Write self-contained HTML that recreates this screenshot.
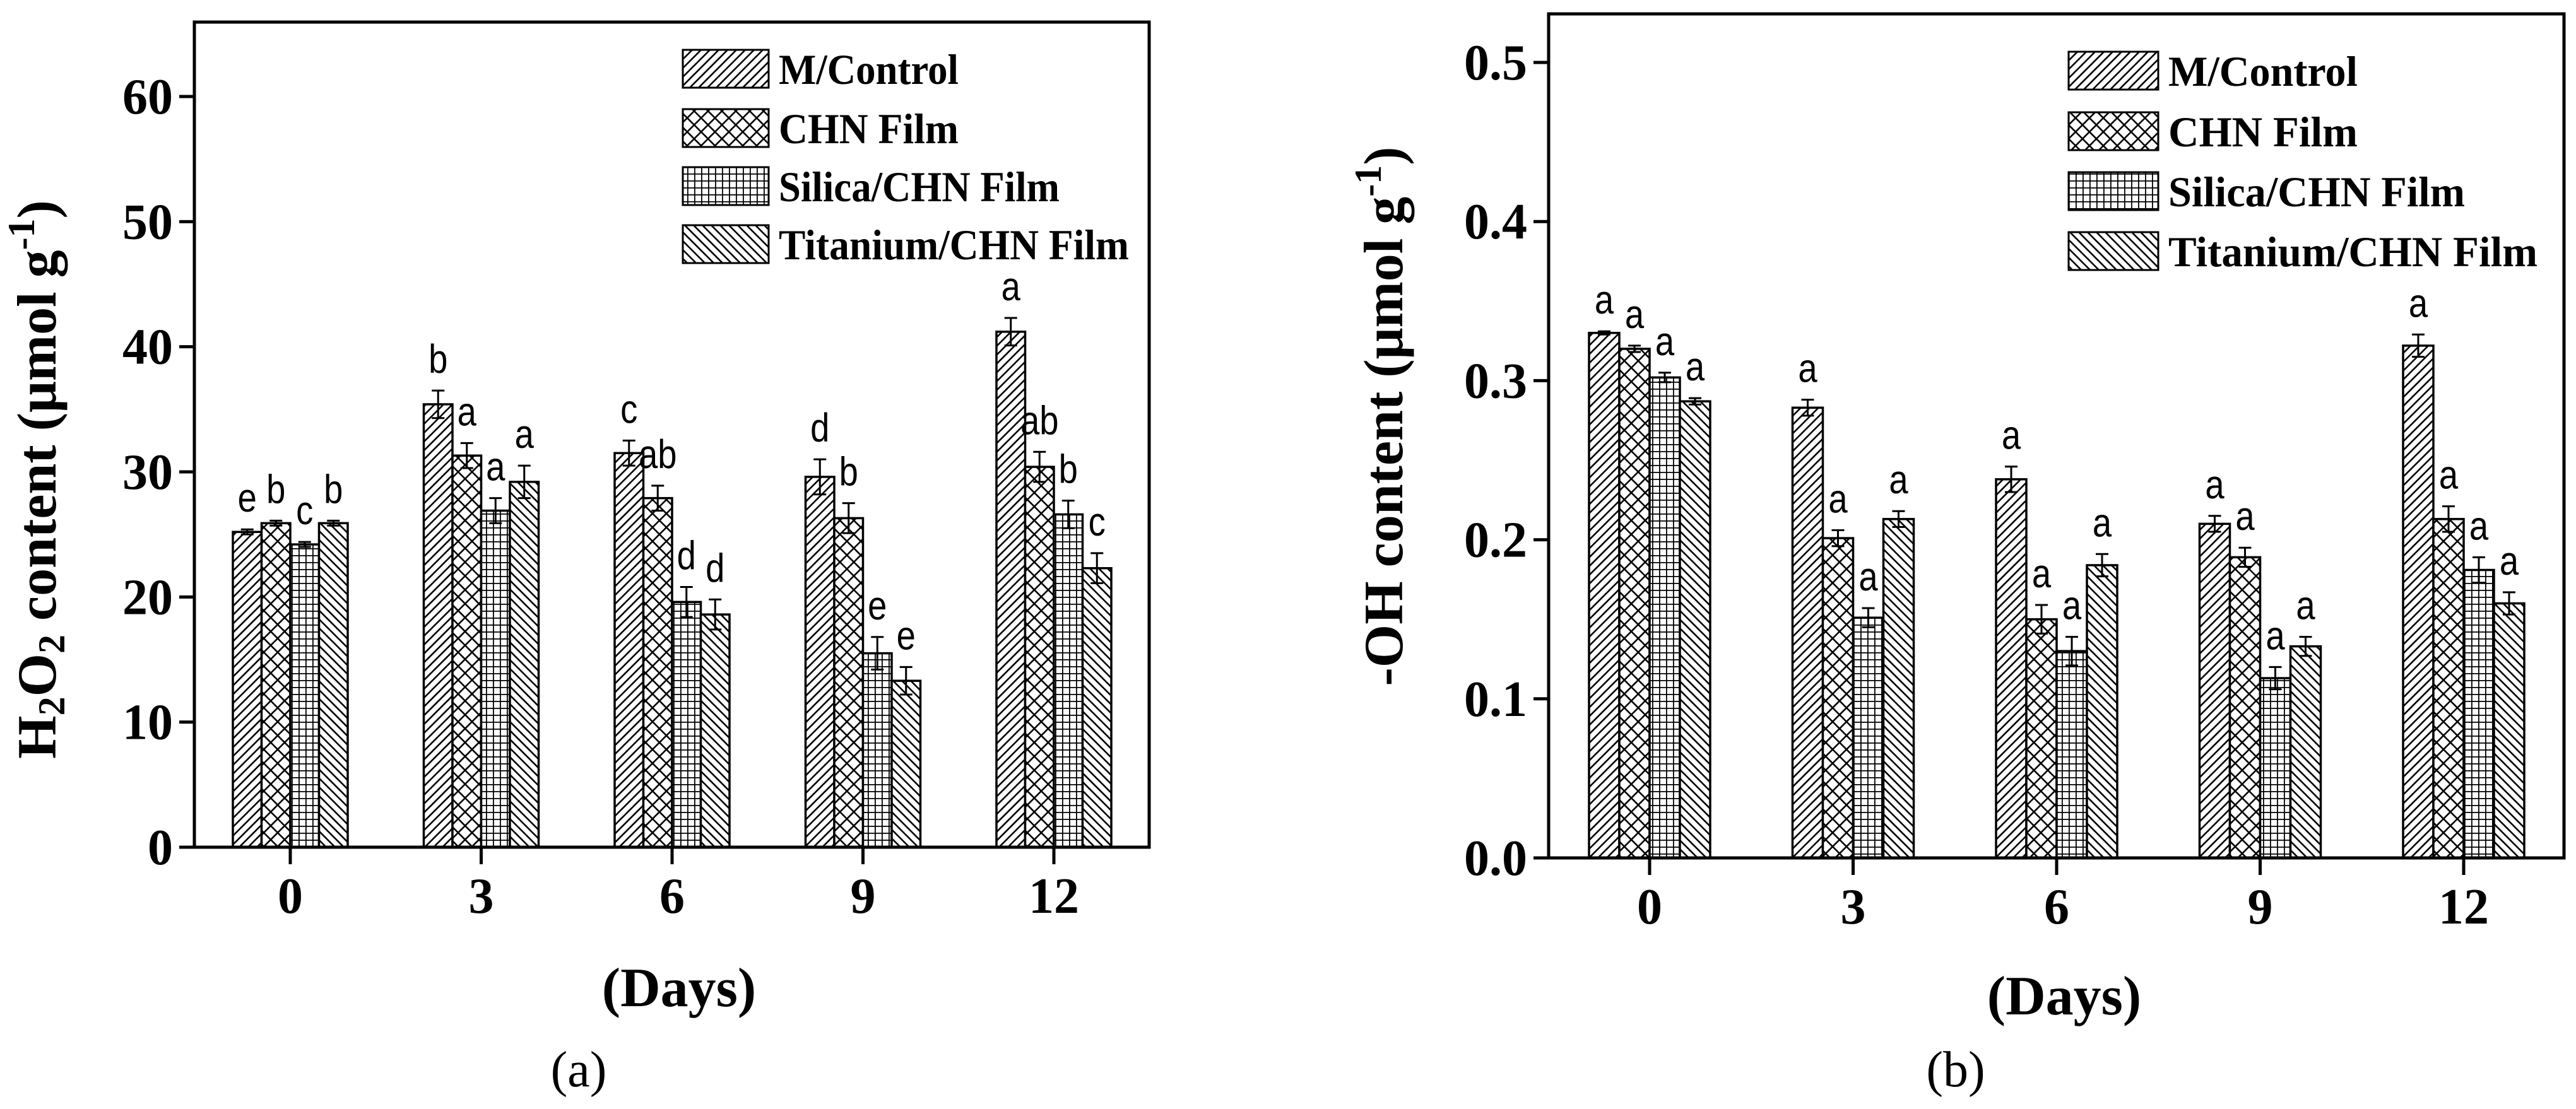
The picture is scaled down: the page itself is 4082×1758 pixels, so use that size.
<!DOCTYPE html>
<html><head><meta charset="utf-8"><style>
html,body{margin:0;padding:0;background:#fff;}
svg{display:block;}
text{font-family:"Liberation Serif",serif;}
.sans{font-family:"Liberation Sans",sans-serif;}
</style></head><body>
<svg id="fig" width="4082" height="1758" viewBox="0 0 4082 1758" xmlns="http://www.w3.org/2000/svg">
<defs>
<pattern id="p0" patternUnits="userSpaceOnUse" width="14" height="14"><rect width="14" height="14" fill="#fff"/><path d="M-2,16 L16,-2 M-9,9 L9,-9 M5,23 L23,5" stroke="#000" stroke-width="2.6"/></pattern>
<pattern id="p1" patternUnits="userSpaceOnUse" width="22" height="22"><rect width="22" height="22" fill="#fff"/><path d="M0,0 L22,22 M22,0 L0,22" stroke="#000" stroke-width="2.6"/></pattern>
<pattern id="p2" patternUnits="userSpaceOnUse" width="11" height="11"><rect width="11" height="11" fill="#fff"/><path d="M0,0.5 H11 M0.5,0 V11" stroke="#000" stroke-width="2.6"/></pattern>
<pattern id="p3" patternUnits="userSpaceOnUse" width="14" height="14"><rect width="14" height="14" fill="#fff"/><path d="M-2,-2 L16,16 M-9,5 L9,23 M5,-9 L23,9" stroke="#000" stroke-width="2.6"/></pattern>
</defs>
<g id="chartA"></g>
<g id="chartB"></g>
</svg>
<script>
const days = ["0","3","6","9","12"];
const seriesNames = ["M/Control","CHN Film","Silica/CHN Film","Titanium/CHN Film"];
// Chart A: H2O2 content
const aControl  = [25.2, 35.4, 31.5, 29.6, 41.2];
const aCHN      = [25.9, 31.3, 27.9, 26.3, 30.4];
const aSilica   = [24.2, 26.9, 19.6, 15.5, 26.6];
const aTitanium = [25.9, 29.2, 18.6, 13.3, 22.3];
const aErrControl  = [0.2, 1.1, 1.0, 1.4, 1.1];
const aErrCHN      = [0.2, 1.0, 1.0, 1.2, 1.2];
const aErrSilica   = [0.2, 1.0, 1.2, 1.3, 1.1];
const aErrTitanium = [0.2, 1.3, 1.2, 1.1, 1.2];
const aLetters = [["e","b","c","b"],["b","a","a","a"],["c","ab","d","d"],["d","b","e","e"],["a","ab","b","c"]];
const aTicks = ["0","10","20","30","40","50","60"];
// Chart B: -OH content
const bControl  = [0.330, 0.283, 0.238, 0.210, 0.322];
const bCHN      = [0.320, 0.201, 0.150, 0.189, 0.213];
const bSilica   = [0.302, 0.151, 0.130, 0.113, 0.181];
const bTitanium = [0.287, 0.213, 0.184, 0.133, 0.160];
const bErrControl  = [0.001, 0.005, 0.008, 0.005, 0.007];
const bErrCHN      = [0.002, 0.005, 0.009, 0.006, 0.008];
const bErrSilica   = [0.003, 0.006, 0.009, 0.007, 0.008];
const bErrTitanium = [0.002, 0.005, 0.007, 0.006, 0.007];
const bLetters = [["a","a","a","a"],["a","a","a","a"],["a","a","a","a"],["a","a","a","a"],["a","a","a","a"]];
const bTicks = ["0.0","0.1","0.2","0.3","0.4","0.5"];

const NS="http://www.w3.org/2000/svg";
function mk(parent,tag,attrs,txt){const e=document.createElementNS(NS,tag);for(const k in attrs)e.setAttribute(k,attrs[k]);if(txt!==undefined)e.textContent=txt;parent.appendChild(e);return e;}

function drawChart(g,cfg){
  const {left,top,right,bottom,x0,dx,vmax,tickVals,tickLabels,barW,series,errs,letters,legend}=cfg;
  const yS=v=>bottom-(v/vmax)*(bottom-cfg.vtop);
  const xS=i=>x0+i*dx;
  for(let i=0;i<days.length;i++){
    for(let s=0;s<4;s++){
      const v=series[s][i], e=errs[s][i];
      const bx=xS(i)-2*barW+s*barW;
      const r=mk(g,'rect',{x:bx,y:yS(v),width:barW,height:bottom-yS(v),fill:'url(#p'+s+')',stroke:'#000','stroke-width':3.5});
      
      
      const cx=bx+barW/2;
      const eb=mk(g,'path',{d:`M${cx},${yS(v+e)} V${yS(v-e)} M${cx-10},${yS(v+e)} H${cx+10} M${cx-10},${yS(v-e)} H${cx+10}`,stroke:'#000','stroke-width':3,fill:'none'});
      
      
      const t=mk(g,'text',{transform:`translate(${cx},${yS(v+e)-28}) scale(0.85,1)`,'text-anchor':'middle','font-size':64,class:'sans'},letters[i][s]);
      
      
    }
  }
  const fr=mk(g,'rect',{x:left,y:top,width:right-left,height:bottom-top,fill:'none',stroke:'#000','stroke-width':5});
  
  
  for(let k=0;k<tickVals.length;k++){
    const y=yS(tickVals[k]);
    mk(g,'line',{x1:left-24,x2:left,y1:y,y2:y,stroke:'#000','stroke-width':5});
    const t=mk(g,'text',{x:left-34,y:y+27,'text-anchor':'end','font-size':80,'font-weight':'bold'},tickLabels[k]);
    
    
  }
  for(let i=0;i<days.length;i++){
    mk(g,'line',{x1:xS(i),x2:xS(i),y1:bottom,y2:bottom+27,stroke:'#000','stroke-width':5});
    const t=mk(g,'text',{x:xS(i),y:bottom+104,'text-anchor':'middle','font-size':80,'font-weight':'bold'},days[i]);
    
    
  }
  for(let s=0;s<4;s++){
    const cy=legend.ys[s];
    const lr=mk(g,'rect',{x:legend.x,y:cy-30,width:legend.w,height:60,fill:'url(#p'+s+')',stroke:'#000','stroke-width':3});
    
    
    const lt=mk(g,'text',{x:legend.x+legend.w+16,y:cy+24,'font-size':68,'font-weight':'bold',textLength:legend.tl[s],lengthAdjust:'spacingAndGlyphs'},seriesNames[s]);
    
    
  }
}

drawChart(document.getElementById('chartA'),{
  left:308,top:35,right:1821,bottom:1343,x0:460,dx:302.5,vmax:60,vtop:153,
  tickVals:[0,10,20,30,40,50,60],tickLabels:aTicks,barW:45.5,
  series:[aControl,aCHN,aSilica,aTitanium],errs:[aErrControl,aErrCHN,aErrSilica,aErrTitanium],letters:aLetters,
  legend:{x:1082,w:136,ys:[109,203,295,387],tl:[285,285,445,555]}
});
drawChart(document.getElementById('chartB'),{
  left:2454,top:22,right:4063,bottom:1360,x0:2614,dx:322.5,vmax:0.5,vtop:99,
  tickVals:[0,0.1,0.2,0.3,0.4,0.5],tickLabels:bTicks,barW:48,
  series:[bControl,bCHN,bSilica,bTitanium],errs:[bErrControl,bErrCHN,bErrSilica,bErrTitanium],letters:bLetters,
  legend:{x:3278,w:142,ys:[112,208,303,398],tl:[300,300,470,585]}
});

const svg=document.getElementById('fig');
let t;
t=mk(svg,'text',{transform:'translate(88,760) rotate(-90)','text-anchor':'middle','font-size':88,'font-weight':'bold'});
t.innerHTML='H<tspan font-size="60" dy="14">2</tspan><tspan dy="-14">O</tspan><tspan font-size="60" dy="14">2</tspan><tspan dy="-14"> content (μmol g</tspan><tspan font-size="60" dy="-34">-1</tspan><tspan dy="34">)</tspan>';


t=mk(svg,'text',{transform:'translate(2222,660) rotate(-90)','text-anchor':'middle','font-size':88,'font-weight':'bold'});
t.innerHTML='-OH content (μmol g<tspan font-size="60" dy="-34">-1</tspan><tspan dy="34">)</tspan>';


t=mk(svg,'text',{x:1076,y:1595,'text-anchor':'middle','font-size':88,'font-weight':'bold'},'(Days)');


t=mk(svg,'text',{x:3271,y:1608,'text-anchor':'middle','font-size':88,'font-weight':'bold'},'(Days)');


t=mk(svg,'text',{x:917,y:1722,'text-anchor':'middle','font-size':80},'(a)');


t=mk(svg,'text',{x:3099,y:1722,'text-anchor':'middle','font-size':80},'(b)');


</script>
</body></html>
